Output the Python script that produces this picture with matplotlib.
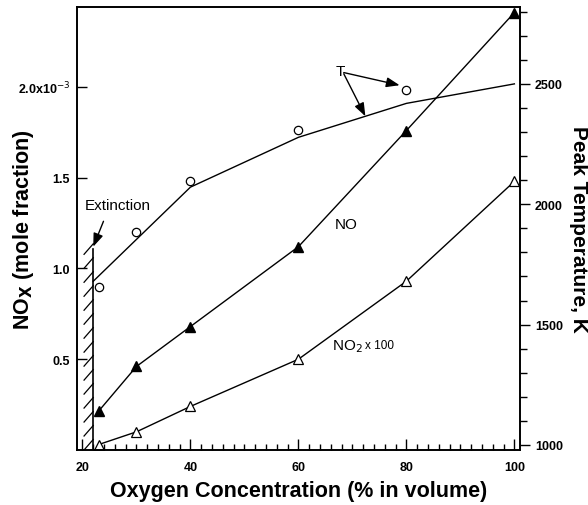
import matplotlib
matplotlib.use("Agg")
import matplotlib.pyplot as plt
import numpy as np
from matplotlib.ticker import MultipleLocator, FixedLocator

plt.rcParams['font.family'] = ['Liberation Sans', 'DejaVu Sans']

# Data
o2_T_meas = [23, 30, 40, 60, 80]
T_meas = [1655, 1884, 2095, 2307, 2473]          # K, open circles
o2_T_calc = [22, 40, 60, 80, 100]
T_calc = [1680, 2071, 2278, 2419, 2500]          # K, line
o2_no = [23, 30, 40, 60, 80, 100]
no = [0.214e-3, 0.46e-3, 0.68e-3, 1.12e-3, 1.76e-3, 2.41e-3]
no2x100 = [0.03e-3, 0.10e-3, 0.24e-3, 0.50e-3, 0.93e-3, 1.48e-3]
extinction_x = 22
extinction_top = 1.11e-3

fig = plt.figure(figsize=(5.88, 5.06), dpi=100)
ax = fig.add_axes([0.131, 0.1087, 0.753, 0.8753])
ax2 = ax.twinx()

ax.set_xlim(19, 101)
ax.set_ylim(0, 2.44e-3)
ax2.set_ylim(979, 2819)

lw = 1.0
ax.plot(o2_no, no, color='black', lw=lw, marker='^', ms=6.5, mfc='black', mec='black')
ax.plot(o2_no, no2x100, color='black', lw=lw, marker='^', ms=6.5, mfc='white', mec='black', mew=0.9)
ax2.plot(o2_T_calc, T_calc, color='black', lw=lw)
ax2.plot(o2_T_meas, T_meas, ls='none', marker='o', ms=6, mfc='white', mec='black', mew=0.9)

# extinction line with hatches
ax.plot([extinction_x, extinction_x], [0, extinction_top], color='black', lw=1.2)
for yy in np.arange(0.0, extinction_top - 0.03e-3, 0.077e-3):
    ax.plot([extinction_x - 1.7, extinction_x], [yy, yy + 0.058e-3], color='black', lw=0.9)

arrow_kw = dict(arrowstyle='-|>,head_length=0.8,head_width=0.3', color='black', lw=1.0)
ax.text(26.5, 1.35e-3, 'Extinction', fontsize=11, ha='center', va='center')
ax.annotate('', xy=(extinction_x, extinction_top + 0.01e-3), xytext=(23.9, 1.26e-3),
            arrowprops=dict(**arrow_kw, shrinkA=0, shrinkB=0))

T_txt = (67.8, 2552)
ax2.text(T_txt[0], T_txt[1], 'T', fontsize=11, ha='center', va='center')
ax2.annotate('', xy=(80, T_meas[-1] + 15), xytext=(T_txt[0] + 0.6, T_txt[1] - 5),
             arrowprops=dict(**arrow_kw, shrinkA=0, shrinkB=5))
x_tgt = 72.4
ax2.annotate('', xy=(x_tgt, np.interp(x_tgt, o2_T_calc, T_calc)), xytext=(T_txt[0] + 0.6, T_txt[1] - 10),
             arrowprops=dict(**arrow_kw, shrinkA=0, shrinkB=0))

ax.text(68.8, 1.247e-3, 'NO', fontsize=11, ha='center', va='center')
ax.text(66.2, 0.577e-3, 'NO$_2$', fontsize=11, ha='left', va='center')
ax.text(72.4, 0.577e-3, 'x 100', fontsize=8.5, ha='left', va='center')

# ticks
ax.set_xticks([20, 40, 60, 80, 100])
ax.set_xticklabels(['20', '40', '60', '80', '100'], fontsize=9, fontweight='bold')
ax.xaxis.set_minor_locator(MultipleLocator(2))
ax.tick_params(axis='x', which='major', direction='in', length=8, width=1, top=False, pad=8)
ax.tick_params(axis='x', which='minor', direction='in', length=4.5, width=1, top=False)

ax.set_yticks([0.5e-3, 1.0e-3, 1.5e-3, 2.0e-3])
ax.set_yticklabels(['0.5', '1.0', '1.5', '2.0x10$^{-3}$'], fontsize=9, fontweight='bold')
ax.tick_params(axis='y', which='major', direction='in', length=7, width=1, pad=5)

ax2.set_yticks([1000, 1500, 2000, 2500])
ax2.set_yticklabels(['1000', '1500', '2000', '2500'], fontsize=9, fontweight='bold')
ax2.yaxis.set_minor_locator(FixedLocator([v for v in range(1100, 2801, 100) if v % 500 != 0]))
ax2.tick_params(axis='y', which='major', direction='out', length=7, width=1, pad=4)
ax2.tick_params(axis='y', which='minor', direction='out', length=5, width=1)

for a in (ax, ax2):
    for s in a.spines.values():
        s.set_linewidth(1.2)

ax.set_xlabel('Oxygen Concentration (% in volume)', fontsize=15.5, fontweight='bold', va='center')
ax.xaxis.set_label_coords(0.5, -0.091)
ax.set_ylabel('NO$_{\\mathbf{X}}$ (mole fraction)', fontsize=15.5, fontweight='bold', va='center')
ax.yaxis.set_label_coords(-0.12, 0.5)
ax2.set_ylabel('Peak Temperature, K', fontsize=15, fontweight='bold', rotation=-90, va='center')
ax2.yaxis.set_label_coords(1.133, 0.5)

fig.savefig('out.png', dpi=100)
